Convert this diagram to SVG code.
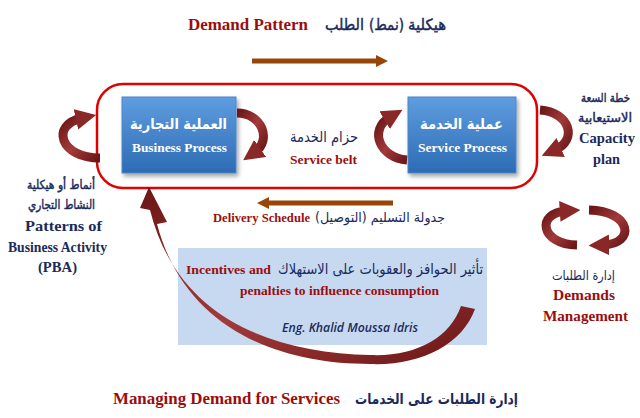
<svg xmlns="http://www.w3.org/2000/svg" width="640" height="418" viewBox="0 0 640 418">
<style>
.en{font-family:"Liberation Serif","Times New Roman",serif;font-weight:bold}
.ar{font-family:"DejaVu Sans","Noto Sans",sans-serif;font-weight:bold}
.arn{font-family:"DejaVu Sans","Noto Sans",sans-serif;font-weight:normal}
.arb{font-family:"DejaVu Sans","Noto Sans",sans-serif;font-weight:normal;stroke:#1a2a5a;stroke-width:0.45}
.red{fill:#9b0d0d}
.navy{fill:#1a2a5a}
.wh{fill:#ffffff}
.rib{fill:none;stroke:url(#ribG);stroke-width:9;marker-end:url(#ah)}
</style>
<defs>
<linearGradient id="ribG" x1="0" y1="0" x2="1" y2="1">
<stop offset="0" stop-color="#6a1616"/>
<stop offset="0.5" stop-color="#a23a3a"/>
<stop offset="1" stop-color="#6a1616"/>
</linearGradient>
<linearGradient id="boxG" x1="0" y1="0" x2="0" y2="1">
<stop offset="0" stop-color="#5f9de0"/>
<stop offset="1" stop-color="#2d6bb4"/>
</linearGradient>
<filter id="sh" x="-10%" y="-10%" width="130%" height="130%">
<feDropShadow dx="2" dy="3" stdDeviation="2" flood-color="#000" flood-opacity="0.35"/>
</filter>
<marker id="ah" viewBox="0 0 10 10" refX="3" refY="5" markerWidth="2.3" markerHeight="2.5" orient="auto" markerUnits="strokeWidth">
<path d="M0,0 L10,5 L0,10 Z" fill="#8a2828"/>
</marker>
</defs>
<rect width="640" height="418" fill="#ffffff"/>

<g id="title">
<text class="en red" x="188" y="30" font-size="17" textLength="120" lengthAdjust="spacingAndGlyphs">Demand Pattern</text>
<text class="arb navy" x="408" y="30" font-size="15.5" textLength="38" lengthAdjust="spacingAndGlyphs">&#x200F;هيكلية&#x200F;</text>
<text class="arb navy" x="369" y="30" font-size="15.5" textLength="35" lengthAdjust="spacingAndGlyphs">&#x200F;(نمط)&#x200F;</text>
<text class="arb navy" x="325" y="30" font-size="15.5" textLength="39" lengthAdjust="spacingAndGlyphs">&#x200F;الطلب&#x200F;</text>
</g>

<g id="infoBox">
<rect x="178" y="248" width="309" height="97" fill="#c6d9f1"/>
<text class="en red" x="186" y="274" font-size="13.5" textLength="85" lengthAdjust="spacingAndGlyphs">Incentives and</text>
<text class="arn navy" x="278" y="274" font-size="15" textLength="205" lengthAdjust="spacingAndGlyphs">&#x200F;تأثير الحوافز والعقوبات على الاستهلاك&#x200F;</text>
<text class="en red" x="240" y="295" font-size="13.5" textLength="199" lengthAdjust="spacingAndGlyphs">penalties to influence consumption</text>
<text x="282" y="332" font-size="12" textLength="136" lengthAdjust="spacingAndGlyphs" font-family="'Open Sans','Liberation Sans',sans-serif" font-style="italic" font-weight="600" fill="#1a2a5a">Eng. Khalid Moussa Idris</text>
</g>

<g id="belt">
<rect x="97" y="84" width="440" height="104" rx="26" fill="none" stroke="#e00000" stroke-width="2.5"/>
</g>

<g id="business">
<rect x="122" y="97" width="114" height="76" fill="url(#boxG)" stroke="#4a86cc" filter="url(#sh)"/>
<text class="ar wh" x="130" y="129" font-size="15" textLength="97" lengthAdjust="spacingAndGlyphs">&#x200F;العملية التجارية&#x200F;</text>
<text class="en wh" x="132" y="152" font-size="13.5" textLength="95" lengthAdjust="spacingAndGlyphs">Business Process</text>
</g>

<g id="service">
<rect x="408" y="97" width="108" height="76" fill="url(#boxG)" stroke="#4a86cc" filter="url(#sh)"/>
<text class="ar wh" x="420" y="129" font-size="15" textLength="83" lengthAdjust="spacingAndGlyphs">&#x200F;عملية الخدمة&#x200F;</text>
<text class="en wh" x="418" y="152" font-size="13.5" textLength="89" lengthAdjust="spacingAndGlyphs">Service Process</text>
</g>

<g id="beltLabel">
<text class="arn navy" x="290" y="142" font-size="15" textLength="68" lengthAdjust="spacingAndGlyphs">&#x200F;حزام الخدمة&#x200F;</text>
<text class="en red" x="290" y="164" font-size="13.5" textLength="67" lengthAdjust="spacingAndGlyphs">Service belt</text>
</g>

<g id="pba">
<text class="arb navy" x="27" y="189" font-size="12.5" textLength="68" lengthAdjust="spacingAndGlyphs">&#x200F;أنماط أو هيكلية&#x200F;</text>
<text class="arb navy" x="28" y="209" font-size="12.5" textLength="67" lengthAdjust="spacingAndGlyphs">&#x200F;النشاط التجاري&#x200F;</text>
<text class="en navy" x="25" y="231" font-size="14" textLength="77" lengthAdjust="spacingAndGlyphs">Patterns of</text>
<text class="en navy" x="8" y="252" font-size="14" textLength="99" lengthAdjust="spacingAndGlyphs">Business Activity</text>
<text class="en navy" x="38" y="272" font-size="14" textLength="39" lengthAdjust="spacingAndGlyphs">(PBA)</text>
</g>

<g id="capacity">
<text class="arb navy" x="581" y="102" font-size="12" textLength="49" lengthAdjust="spacingAndGlyphs">&#x200F;خطة السعة&#x200F;</text>
<text class="arb navy" x="578" y="122" font-size="12.5" textLength="54" lengthAdjust="spacingAndGlyphs">&#x200F;الاستيعابية&#x200F;</text>
<text class="en navy" x="579" y="143" font-size="14" textLength="56" lengthAdjust="spacingAndGlyphs">Capacity</text>
<text class="en navy" x="593" y="164" font-size="14" textLength="27" lengthAdjust="spacingAndGlyphs">plan</text>
</g>

<g id="demands">
<text class="arn navy" x="552" y="280" font-size="13" textLength="63" lengthAdjust="spacingAndGlyphs">&#x200F;إدارة الطلبات&#x200F;</text>
<text class="en red" x="553" y="300" font-size="15" textLength="62" lengthAdjust="spacingAndGlyphs">Demands</text>
<text class="en red" x="543" y="321" font-size="15" textLength="85" lengthAdjust="spacingAndGlyphs">Management</text>
</g>

<g id="delivery">
<text class="en red" x="213" y="222" font-size="13.5" textLength="97" lengthAdjust="spacingAndGlyphs">Delivery Schedule</text>
<text class="arn navy" x="315" y="222" font-size="13.5" textLength="130" lengthAdjust="spacingAndGlyphs">&#x200F;جدولة التسليم (التوصيل)&#x200F;</text>
</g>

<g id="bottom">
<text class="en red" x="113" y="404" font-size="16.5" textLength="227" lengthAdjust="spacingAndGlyphs">Managing Demand for Services</text>
<text class="ar navy" x="355" y="404" font-size="15" textLength="163" lengthAdjust="spacingAndGlyphs">&#x200F;إدارة الطلبات على الخدمات&#x200F;</text>
</g>

<g id="connectors">
<path d="M252,58.5 H376 V55 L388,61 L376,67 V63.5 H252 Z" fill="#974608"/>
<path d="M393,200.5 H269 V197 L257,203 L269,209 V205.5 H393 Z" fill="#974608"/>
<path class="rib" d="M237,113 C262,113 272,140 255,152"/>
<path class="rib" d="M407,160 C380,158 368,130 390,117"/>
<path class="rib" d="M100,158 C60,158 50,125 82,118"/>
<path class="rib" d="M540,110 C570,112 578,140 555,150"/>
<path class="rib" d="M577,245 C540,244 536,213 566,211"/>
<path class="rib" d="M589,210 C632,211 636,244 603,245"/>
<path d="M475,309 C462,345 420,366 370,364 C280,364 185,330 157,224 L167,222 L149,187 L140,208 L150,210 C177,318 272,353 370,355 C415,357 450,338 461,306 Z" fill="url(#ribG)"/>
</g>
</svg>
